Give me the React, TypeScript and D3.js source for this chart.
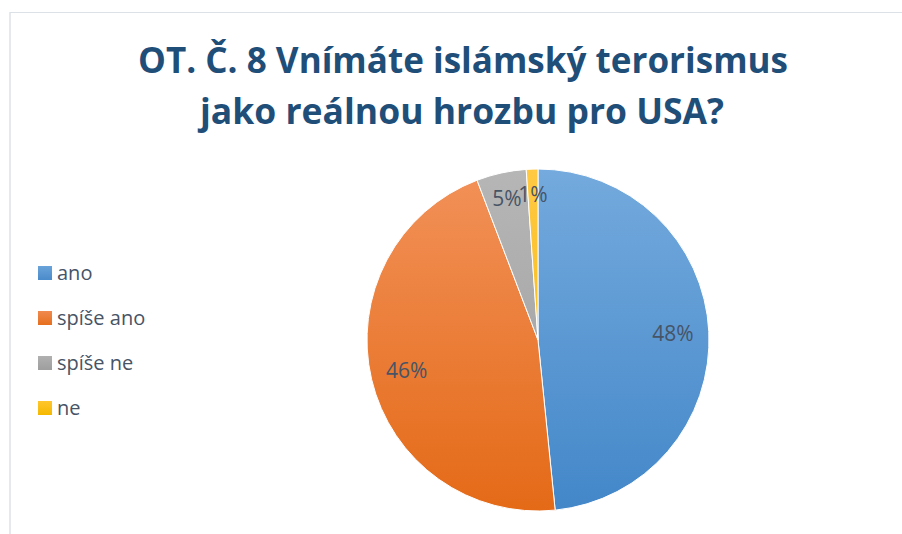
import React from "react";
import * as d3 from "d3";

const categories = ["ano", "spíše ano", "spíše ne", "ne"];
const values = [48.4, 45.8, 4.7, 1.1];
const titleLines = ["OT. Č. 8 Vnímáte islámský terorismus", "jako reálnou hrozbu pro USA?"];
const colorTop = ["#74AADD", "#F29159", "#B6B6B6", "#FFC943"];
const colorBottom = ["#4387C9", "#E46A17", "#9C9C9C", "#F3B500"];
const legendTop = ["#6AA3DA", "#F08A4F", "#B0B0B0", "#FFC62E"];
const legendBottom = ["#4A8BCB", "#E66F1E", "#9E9E9E", "#F5B800"];

const W = 902;
const H = 534;
const cx = 538;
const cy = 340;
const R = 171;

export default function App() {
  const total = d3.sum(values);
  const pie = d3.pie<number>().sort(null).value((d) => d)(values);
  const arc = d3.arc<d3.PieArcDatum<number>>().innerRadius(0).outerRadius(R);
  const legendY = d3.scalePoint<string>().domain(categories).range([273, 408]);
  const fmt = (v: number) => `${Math.round((v / total) * 100)}%`;

  return (
    <div style={{ position: "fixed", left: 0, top: 0 }}>
      <svg width={W} height={H} style={{ display: "block", background: "#fff" }}>
        <defs>
          {categories.map((c, i) => (
            <linearGradient key={c} id={`g${i}`} gradientUnits="userSpaceOnUse" x1={0} y1={-R} x2={0} y2={R}>
              <stop offset="0" stopColor={colorTop[i]} />
              <stop offset="1" stopColor={colorBottom[i]} />
            </linearGradient>
          ))}
          {categories.map((c, i) => (
            <linearGradient key={`l${c}`} id={`lg${i}`} x1={0} y1={0} x2={0} y2={1}>
              <stop offset="0" stopColor={legendTop[i]} />
              <stop offset="1" stopColor={legendBottom[i]} />
            </linearGradient>
          ))}
        </defs>
        <line x1={10} y1={12.5} x2={W} y2={12.5} stroke="#DCE1E7" strokeWidth={1} />
        <line x1={10} y1={12} x2={10} y2={H} stroke="#DCE1E7" strokeWidth={1.5} />
        <g fontFamily="'Open Sans', sans-serif" fontWeight={700} fill="#1F4E79" textAnchor="middle">
          <text x={463} y={73} fontSize={35} textLength={650} lengthAdjust="spacingAndGlyphs">{titleLines[0]}</text>
          <text x={462} y={124} fontSize={35} textLength={524} lengthAdjust="spacingAndGlyphs">{titleLines[1]}</text>
        </g>
        <g transform={`translate(${cx},${cy})`}>
          {pie.map((p, i) => (
            <path key={i} d={arc(p) || ""} fill={`url(#g${i})`} stroke="#fff" strokeWidth={1} />
          ))}
          {pie.map((p, i) => {
            const frac = (p.endAngle - p.startAngle) / (2 * Math.PI);
            const lr = frac < 0.1 ? 145 : 135;
            const a = (p.startAngle + p.endAngle) / 2;
            const x = lr * Math.sin(a);
            const y = -lr * Math.cos(a);
            return (
              <text key={`l${i}`} x={x} y={y} dy="0.35em" textAnchor="middle" fontFamily="'Open Sans', sans-serif" fontSize={21} fill="#475466">
                {fmt(p.data)}
              </text>
            );
          })}
        </g>
        <g fontFamily="'Open Sans', sans-serif" fontSize={20} fill="#475466">
          {categories.map((c, i) => (
            <g key={c} transform={`translate(38,${legendY(c)})`}>
              <rect x={0} y={-7} width={14} height={14} fill={`url(#lg${i})`} />
              <text x={19} y={7} textLength={undefined}>{c}</text>
            </g>
          ))}
        </g>
      </svg>
    </div>
  );
}
